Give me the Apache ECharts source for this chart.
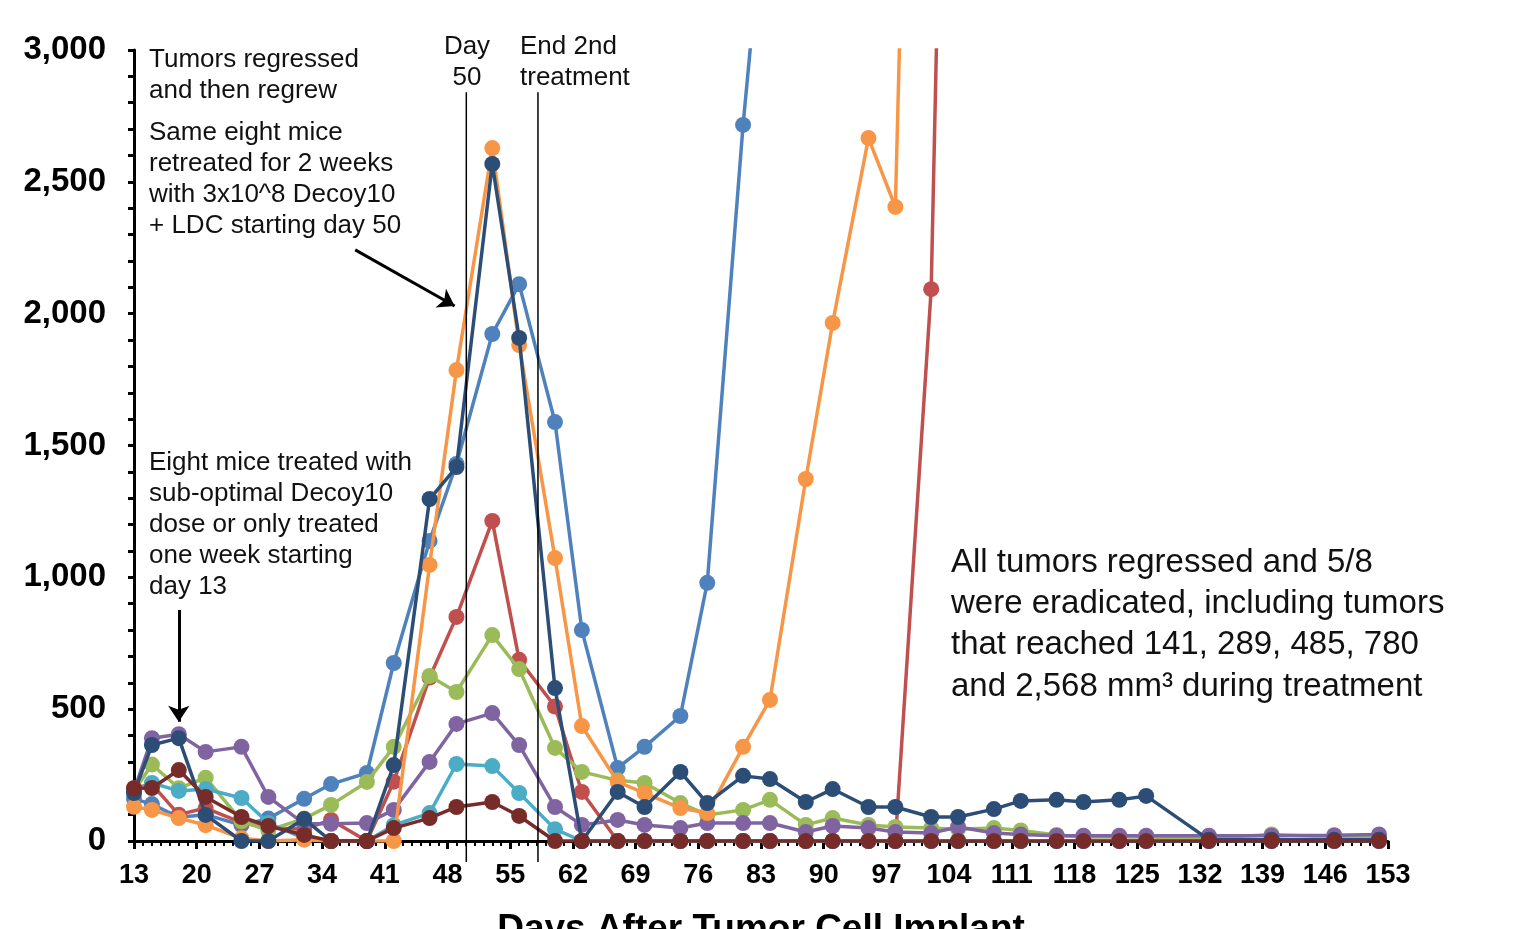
<!DOCTYPE html>
<html><head><meta charset="utf-8">
<script src="https://cdn.jsdelivr.net/npm/echarts@6/dist/echarts.min.js"></script>
<style>html,body{margin:0;padding:0;background:#fff}#c{width:1534px;height:929px}</style>
</head><body><div id="c"></div>
<script>
// Days after tumor cell implant (x values)
const days = [13,15,18,21,25,28,32,35,39,42,46,49,53,56,60,63,67,70,74,77,81,84,88,91,95,98,102,105,109,112,116,119,123,126,133,140,147,152];

// Tumor volume (mm^3) per mouse; null = no further measurement
const mouseBlue = [160,140,90,100,60,85,160,216,258,675,1138,1430,1923,2112,1589,800,277,357,474,979,2716,3800,null,null,null,null,null,null,null,null,null,null,null,null,null,null,null,null];
const mouseRed = [200,215,100,125,70,50,45,80,0,225,620,850,1214,687,510,186,0,0,0,0,0,0,0,0,0,0,2093,6800,null,null,null,null,null,null,null,null,null,null];
const mouseGreen = [190,290,200,240,75,40,85,137,224,357,626,565,781,652,353,262,230,220,144,99,118,156,61,87,61,53,49,45,49,40,23,15,15,15,10,25,15,15];
const mousePurple = [190,390,405,338,357,167,65,65,68,118,300,444,485,364,129,61,80,61,49,68,68,68,34,57,49,34,30,53,30,25,20,20,20,20,20,20,22,25];
const mouseAqua = [190,220,190,197,163,68,10,0,0,60,106,292,284,182,45,0,0,0,0,0,0,0,0,0,0,0,0,0,0,0,0,0,0,0,0,0,0,0];
const mouseOrange = [130,118,87,60,10,0,5,0,0,0,1047,1786,2628,1881,1073,436,224,182,125,106,357,535,1373,1965,2666,2405,7700,null,null,null,null,null,null,null,null,null,null,null];
const mouseDarkBlue = [182,364,390,99,0,0,83,0,0,288,1297,1418,2568,1908,580,0,186,129,262,144,247,235,148,197,129,129,91,91,121,152,156,148,156,171,5,5,5,5];
const mouseDarkRed = [200,201,269,167,91,57,23,0,0,49,87,129,148,95,0,0,0,0,0,0,0,0,0,0,0,0,0,0,0,0,0,0,0,0,0,0,0,0];

const seriesList = [mouseBlue, mouseRed, mouseGreen, mousePurple, mouseAqua, mouseOrange, mouseDarkBlue, mouseDarkRed];
const colors = ['#4F81BD','#C0504D','#9BBB59','#8064A2','#4BACC6','#F79646','#2C4D75','#772C2A'];

// Treatment reference days (vertical lines)
const refDays = [50.1, 58.1];
const refSpan = [2840, -80];

// Arrow annotations [start, end] in data coords
const arrowA = [[37.7, 2242], [48.8, 2029]];
const arrowB = [[18, 876], [18, 452]];

const xTicks = {min: 13, max: 153, interval: 7};
const yTicks = {min: 0, max: 3000, interval: 500};

const FONT = '"Liberation Sans", Arial, sans-serif';

const chart = echarts.init(document.getElementById('c'), null, {renderer: 'canvas'});

const series = seriesList.map((vals, i) => ({
  type: 'line',
  data: days.map((d, j) => [d, vals[j]]),
  connectNulls: false,
  symbol: 'circle',
  symbolSize: 16,
  clip: true,
  color: colors[i],
  lineStyle: {width: 3.5, color: colors[i]},
  itemStyle: {color: colors[i]},
  z: 2 + i,
  animation: false
}));

refDays.forEach(d => {
  series.push({
    type: 'line',
    data: [[d, refSpan[0]], [d, refSpan[1]]],
    clip: false,
    symbol: 'none',
    lineStyle: {width: 1.5, color: '#000'},
    z: 20,
    silent: true,
    animation: false
  });
});

series.push({
  type: 'lines',
  coordinateSystem: 'cartesian2d',
  symbol: ['none', 'arrow'],
  symbolSize: 16,
  lineStyle: {width: 3, color: '#000', opacity: 1},
  data: [{coords: arrowA}, {coords: arrowB}],
  z: 20,
  silent: true,
  animation: false
});

const txt = (x, y, text, size, lh, align) => ({
  type: 'text',
  x: x, y: y,
  z: 100,
  style: {
    text: text,
    font: size + 'px ' + FONT,
    fill: '#111',
    lineHeight: lh,
    align: align || 'left',
    verticalAlign: 'top'
  }
});

chart.setOption({
  backgroundColor: '#fff',
  animation: false,
  grid: {left: 134, right: 146, top: 50, bottom: 88, containLabel: false, outerBoundsMode: 'none'},
  xAxis: {
    type: 'value',
    min: xTicks.min, max: xTicks.max, interval: xTicks.interval,
    name: 'Days After Tumor Cell Implant',
    nameLocation: 'middle',
    nameGap: 70,
    nameTextStyle: {fontFamily: FONT, fontWeight: 'bold', fontSize: 37, color: '#000'},
    axisLine: {show: true, onZero: false, lineStyle: {color: '#000', width: 3}},
    axisTick: {show: true, inside: false, length: 8, lineStyle: {color: '#000', width: 3}},
    minorTick: {show: true, splitNumber: 7, length: 5, lineStyle: {color: '#000', width: 2}},
    splitLine: {show: false},
    minorSplitLine: {show: false},
    axisLabel: {fontFamily: FONT, fontWeight: 'bold', fontSize: 27, color: '#000', margin: 21}
  },
  yAxis: {
    type: 'value',
    min: yTicks.min, max: yTicks.max, interval: yTicks.interval,
    axisLine: {show: true, lineStyle: {color: '#000', width: 3}},
    axisTick: {show: true, inside: false, length: 6, lineStyle: {color: '#000', width: 3}},
    minorTick: {show: true, splitNumber: 5, length: 6, lineStyle: {color: '#000', width: 3}},
    splitLine: {show: false},
    axisLabel: {
      fontFamily: FONT, fontWeight: 'bold', fontSize: 33, color: '#000', margin: 28,
      formatter: v => v.toLocaleString('en-US')
    }
  },
  series: series,
  graphic: [
    txt(149, 44, 'Tumors regressed\nand then regrew', 26, 31),
    txt(149, 117, 'Same eight mice\nretreated for 2 weeks\nwith 3x10^8 Decoy10\n+ LDC starting day 50', 26, 31),
    txt(149, 447, 'Eight mice treated with\nsub-optimal Decoy10\ndose or only treated\none week starting\nday 13', 26, 31),
    txt(467, 31, 'Day\n50', 26, 31, 'center'),
    txt(520, 31, 'End 2nd\ntreatment', 26, 31),
    txt(951, 542, 'All tumors regressed and 5/8\nwere eradicated, including tumors\nthat reached 141, 289, 485, 780\nand 2,568 mm\u00b3 during treatment', 33, 41.3)
  ]
});
</script>
</body></html>
